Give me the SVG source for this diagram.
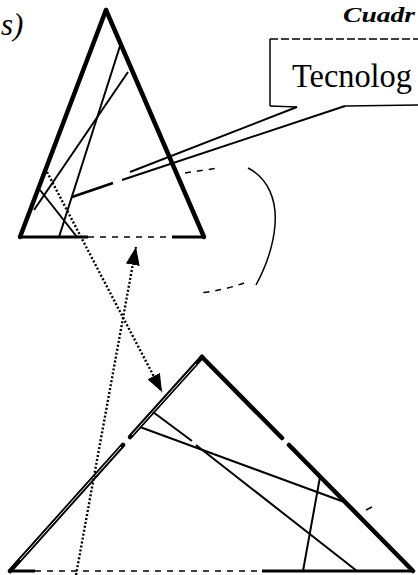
<svg xmlns="http://www.w3.org/2000/svg" width="418" height="575" viewBox="0 0 418 575">
<style>
.edge{stroke:#000;stroke-width:4.5;stroke-linecap:round;fill:none}
.base{stroke:#000;stroke-width:3;fill:none}
.dbase{stroke:#000;stroke-width:1.5;stroke-dasharray:6 6;fill:none}
.inner{stroke:#000;stroke-width:2;fill:none}
.dot{stroke:#000;stroke-width:2.4;stroke-dasharray:2 2;fill:none}
.thin{stroke:#000;stroke-width:1.5;fill:none}
.dash{stroke:#000;stroke-width:1.5;stroke-dasharray:6 6;fill:none}
.t{font-family:"Liberation Serif","Times New Roman",serif;fill:#000}
</style>
<defs>
<marker id="ah" viewBox="0 0 18 14" refX="18" refY="7" markerUnits="userSpaceOnUse" markerWidth="18" markerHeight="14" orient="auto">
<path d="M0,0 L18,7 L0,14 z" fill="#000"/>
</marker>
</defs>
<rect width="418" height="575" fill="#fff"/>
<g id="labels">
<text class="t" x="1" y="35" font-size="31" font-style="italic">s)</text>
<text class="t" x="343" y="22" font-size="22" font-style="italic" font-weight="bold" textLength="72" lengthAdjust="spacingAndGlyphs">Cuadr</text>
</g>
<g id="top-triangle">
<line class="edge" x1="20" y1="237" x2="106" y2="10"/>
<line class="edge" x1="106" y1="10" x2="204" y2="237"/>
<line class="base" x1="20" y1="237" x2="88" y2="237"/>
<line class="dbase" x1="88" y1="237" x2="172" y2="237"/>
<line class="base" x1="172" y1="237" x2="204" y2="237"/>
<line class="inner" x1="120" y1="46" x2="59" y2="237"/>
<line class="inner" x1="128" y1="72" x2="34" y2="210"/>
<line class="inner" x1="40" y1="190" x2="77" y2="237"/>
</g>
<g id="bottom-triangle">
<line class="edge" x1="10" y1="571" x2="123" y2="445"/>
<line class="edge" x1="130" y1="437" x2="202" y2="357"/>
<line stroke="#fff" stroke-width="1" x1="20" y1="560" x2="121" y2="447"/>
<line stroke="#fff" stroke-width="1" x1="132" y1="435" x2="196" y2="364"/>
<line class="edge" x1="202" y1="357" x2="282" y2="438"/>
<line class="edge" x1="289" y1="445" x2="413" y2="571"/>
<line class="base" x1="10" y1="571" x2="35" y2="571"/>
<line class="dbase" x1="35" y1="571" x2="262" y2="571"/>
<line class="base" x1="262" y1="571" x2="413" y2="571"/>
<line class="inner" x1="153" y1="412" x2="192" y2="441"/>
<line class="inner" x1="196" y1="445" x2="357" y2="571"/>
<line class="inner" x1="140" y1="427" x2="347" y2="503"/>
<line class="inner" x1="320" y1="477" x2="303" y2="571"/>
<line class="thin" x1="366" y1="510" x2="372" y2="507"/>
</g>
<g id="callout-tecnolog">
<line class="thin" x1="270" y1="39" x2="270" y2="106"/>
<line class="dash" x1="270" y1="39" x2="418" y2="39" style="stroke-dasharray:8 3"/>
<line class="thin" x1="270" y1="106" x2="297" y2="107"/>
<line class="thin" x1="345" y1="106" x2="418" y2="105"/>
<text class="t" x="292" y="87" font-size="33" textLength="120" lengthAdjust="spacingAndGlyphs">Tecnolog</text>
</g>
<g id="bracket">
<path class="dash" d="M185 173 L218 168"/>
<path class="thin" d="M248 168 C268 178 277 200 275 225 C273 250 263 272 256 285"/>
<path class="dash" d="M244 283 Q225 290 200 293"/>
</g>
<g id="connectors">
<line class="inner" x1="297" y1="107" x2="130" y2="172"/>
<line class="inner" x1="345" y1="106" x2="122" y2="180"/>
<line stroke="#000" stroke-width="2.8" x1="113" y1="183" x2="72" y2="197"/>
<line class="dot" x1="47" y1="172" x2="162" y2="392" marker-end="url(#ah)"/>
<line class="dot" x1="76" y1="575" x2="136" y2="247" marker-end="url(#ah)"/>
</g>
</svg>
